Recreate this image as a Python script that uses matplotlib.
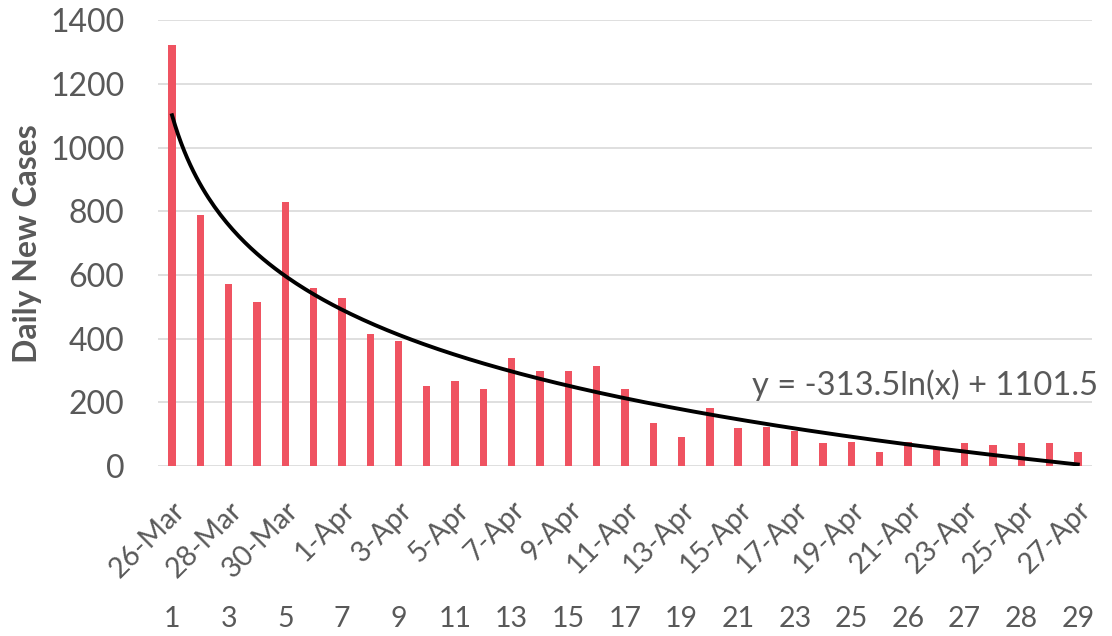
import numpy as np
import pandas as pd
import matplotlib
matplotlib.use('Agg')
import matplotlib.pyplot as plt

# daily new cases, 26-Mar to 27-Apr
dates = pd.date_range('2020-03-26', '2020-04-27')
new_cases = [1321, 787, 571, 514, 829, 559, 528, 415, 392, 253, 267,
             243, 339, 300, 298, 313, 243, 135, 93, 182, 120, 123,
             111, 73, 75, 43, 75, 53, 73, 65, 73, 73, 46]
# second row of category labels under the dates
day_labels = ['1', '3', '5', '7', '9', '11', '13', '15', '17', '19',
              '21', '23', '25', '26', '27', '28', '29']
# log trendline as shown on the chart
trend_a = -313.5
trend_b = 1101.5

plt.rcParams['font.family'] = ['Lato', 'DejaVu Sans']
grey = '#595959'

fig = plt.figure(figsize=(11.12, 6.36), dpi=100)
ax = fig.add_axes([0.142, 0.267, 0.840, 0.7013])

x = np.arange(1, len(new_cases) + 1)
ax.bar(x, new_cases, width=0.26, color='#EF5361', zorder=2)

xs = np.linspace(1, len(new_cases), 300)
ax.plot(xs, trend_a * np.log(xs) + trend_b, color='black', lw=2.8, zorder=3)

ax.set_xlim(0.5, len(new_cases) + 0.5)
ax.set_ylim(0, 1400)
ax.set_yticks(range(0, 1401, 200))
ax.grid(axis='y', color='#D9D9D9', lw=1.2, zorder=0)
ax.set_axisbelow(True)
for s in ax.spines.values():
    s.set_visible(False)

tick_pos = x[::2]
date_labels = [f"{d.day}-{d.strftime('%b')}" for d in dates[::2]]
ax.set_xticks(tick_pos)
ax.set_xticklabels(date_labels, rotation=45, ha='right', rotation_mode='anchor',
                   fontsize=20.5, color=grey)
ax.tick_params(axis='x', length=0, pad=22)
ax.tick_params(axis='y', length=0, pad=24, labelsize=23, labelcolor=grey)

sec = ax.secondary_xaxis(-0.31)
sec.set_xticks(tick_pos)
sec.set_xticklabels(day_labels, fontsize=20.5, color=grey)
sec.tick_params(length=0, pad=1)
sec.spines['bottom'].set_visible(False)

ax.set_ylabel('Daily New Cases', fontsize=23, fontweight='bold', color=grey, labelpad=6)

ax.text(1.006, 255, 'y = -313.5ln(x) + 1101.5', fontsize=23.5,
        color=grey, ha='right', va='center', zorder=4,
        transform=ax.get_yaxis_transform())

fig.savefig('out.png', dpi=100)
